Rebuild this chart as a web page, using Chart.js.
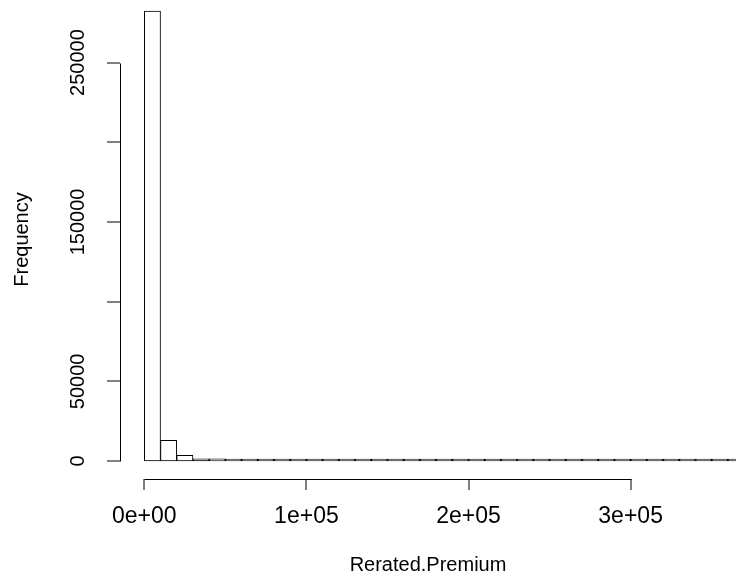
<!DOCTYPE html>
<html>
<head>
<meta charset="utf-8">
<script src="https://cdn.jsdelivr.net/npm/chart.js@4.4.1/dist/chart.umd.min.js"></script>
<style>
  html, body { margin: 0; padding: 0; background: #fff; }
  #c { display: block; }
</style>
</head>
<body>
<canvas id="c" width="736" height="580"></canvas>
<script>
// Histogram bins (lower edges) of Rerated.Premium, width 10000
const binStarts = [0, 10000, 20000, 30000, 40000, 50000, 60000, 70000, 80000, 90000,
  100000, 110000, 120000, 130000, 140000, 150000, 160000, 170000, 180000, 190000,
  200000, 210000, 220000, 230000, 240000, 250000, 260000, 270000, 280000, 290000,
  300000, 310000, 320000, 330000, 340000, 350000, 360000];
const binWidth = 10000;
// Frequencies
const frequencies = [282400, 13000, 3600, 1400, 1300, 200, 120, 80, 50, 35,
  25, 20, 15, 12, 10, 8, 6, 5, 4, 4,
  3, 3, 2, 2, 2, 2, 1, 1, 1, 1,
  1, 1, 1, 1, 1, 1, 1];
const xTickValues = [0, 100000, 200000, 300000];
const xTickLabels = ["0e+00", "1e+05", "2e+05", "3e+05"];
const yTickValues = [0, 50000, 100000, 150000, 200000, 250000];
const yTickLabels = ["0", "50000", "", "150000", "", "250000"];
const xTitle = "Rerated.Premium";
const yTitle = "Frequency";

const points = binStarts.map((s, i) => ({ x: s + binWidth / 2, y: frequencies[i] }));

Chart.defaults.font.family = "'Liberation Sans', Arial, sans-serif";
Chart.defaults.color = "#000";

const axisLines = {
  id: 'axisLines',
  afterDraw(chart) {
    const { ctx, scales: { x, y } } = chart;
    ctx.save();
    ctx.strokeStyle = '#000';
    ctx.lineWidth = 1;
    ctx.beginPath();
    const xl = Math.round(y.right) + 0.5;
    ctx.moveTo(xl, Math.round(y.getPixelForValue(yTickValues[0])) + 0.5);
    ctx.lineTo(xl, Math.round(y.getPixelForValue(yTickValues[yTickValues.length - 1])) + 0.5);
    const yl = Math.round(x.top) + 0.5;
    ctx.moveTo(Math.round(x.getPixelForValue(xTickValues[0])) + 0.5, yl);
    ctx.lineTo(Math.round(x.getPixelForValue(xTickValues[xTickValues.length - 1])) + 0.5, yl);
    ctx.stroke();
    ctx.restore();
  }
};

new Chart(document.getElementById('c'), {
  type: 'bar',
  data: {
    datasets: [{
      data: points,
      backgroundColor: '#fff',
      borderColor: '#000',
      borderWidth: 1,
      borderSkipped: false,
      minBarLength: 2,
      barPercentage: 1,
      categoryPercentage: 1
    }]
  },
  options: {
    responsive: false,
    animation: false,
    layout: { padding: 0 },
    plugins: { legend: { display: false }, tooltip: { enabled: false } },
    scales: {
      x: {
        type: 'linear',
        min: -15000,
        max: 365000,
        offset: false,
        afterFit(s) { s.height = 101; s.paddingLeft = 0; s.paddingRight = 0; },
        afterBuildTicks(s) { s.ticks = xTickValues.map(v => ({ value: v })); },
        grid: { offset: false, drawOnChartArea: false, drawTicks: true, tickLength: 11, tickColor: '#000', lineWidth: 0, tickWidth: 1 },
        border: { display: false },
        ticks: {
          font: { size: 23 },
          padding: 12.5,
          maxRotation: 0,
          minRotation: 0,
          autoSkip: false,
          callback: (v, i) => xTickLabels[i]
        },
        title: { display: true, text: xTitle, font: { size: 20 }, padding: { top: 0, bottom: 3 } }
      },
      y: {
        type: 'linear',
        min: -11295,
        max: 289280,
        afterFit(s) { s.width = 120; s.paddingTop = 0; s.paddingBottom = 0; },
        afterBuildTicks(s) { s.ticks = yTickValues.map(v => ({ value: v })); },
        grid: { drawOnChartArea: false, drawTicks: true, tickLength: 13, tickColor: '#000', lineWidth: 0, tickWidth: 1 },
        border: { display: false },
        ticks: {
          font: { size: 20 },
          padding: -5,
          minRotation: 90,
          maxRotation: 90,
          crossAlign: 'center',
          autoSkip: false,
          callback: (v, i) => yTickLabels[i]
        },
        title: { display: true, text: yTitle, font: { size: 20 }, padding: { top: 10, bottom: 0 } }
      }
    }
  },
  plugins: [axisLines]
});
</script>
</body>
</html>
